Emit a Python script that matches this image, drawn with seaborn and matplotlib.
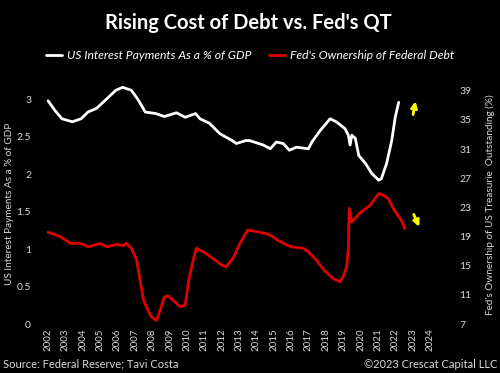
import matplotlib
matplotlib.use("Agg")
import matplotlib.pyplot as plt
import seaborn as sns
import pandas as pd

# US interest payments as % of GDP (left axis)
int_years = [2002.0, 2002.4, 2002.8, 2003.4, 2003.9, 2004.3, 2004.8, 2005.4, 2005.9,
             2006.3, 2006.8, 2007.2, 2007.6, 2008.2, 2008.7, 2009.4, 2009.9, 2010.5,
             2010.75, 2011.3, 2011.9, 2012.6, 2012.85, 2013.4, 2013.6, 2014.4, 2014.8,
             2015.15, 2015.55, 2015.9, 2016.3, 2017.0, 2017.2, 2017.7, 2018.25, 2018.6,
             2019.1, 2019.3, 2019.4, 2019.5, 2019.7, 2019.9, 2020.3, 2020.65, 2021.05,
             2021.2, 2021.5, 2021.8, 2022.0, 2022.2]
int_pct = [2.98, 2.85, 2.74, 2.70, 2.74, 2.83, 2.88, 3.01, 3.12,
           3.16, 3.12, 2.99, 2.83, 2.81, 2.77, 2.82, 2.76, 2.81,
           2.74, 2.68, 2.54, 2.45, 2.41, 2.45, 2.45, 2.39, 2.34,
           2.43, 2.41, 2.32, 2.36, 2.34, 2.43, 2.59, 2.74, 2.70,
           2.61, 2.52, 2.39, 2.52, 2.48, 2.25, 2.14, 2.01, 1.92,
           1.94, 2.14, 2.45, 2.76, 2.96]

# Fed's ownership of US treasuries outstanding, % (right axis)
fed_years = [2002.0, 2002.7, 2003.3, 2003.85, 2004.3, 2005.0, 2005.4, 2005.9, 2006.4,
             2006.5, 2006.8, 2007.1, 2007.3, 2007.5, 2007.75, 2007.95, 2008.25, 2008.45,
             2008.7, 2008.9, 2009.2, 2009.6, 2009.9, 2010.1, 2010.4, 2010.55, 2010.95,
             2011.5, 2012.0, 2012.25, 2012.65, 2013.05, 2013.5, 2014.6, 2014.95, 2015.15,
             2015.55, 2016.0, 2016.7, 2017.0, 2017.45, 2017.9, 2018.4, 2018.8, 2019.0,
             2019.2, 2019.3, 2019.35, 2019.5, 2019.95, 2020.55, 2021.05, 2021.3, 2021.6,
             2021.95, 2022.35, 2022.55]
fed_pct = [19.6, 19.0, 18.05, 18.1, 17.6, 18.05, 17.6, 17.9, 17.8,
           18.1, 17.4, 15.8, 13.0, 10.3, 8.9, 8.0, 7.5, 8.9,
           10.7, 10.9, 10.3, 9.4, 9.6, 13.0, 16.2, 17.4, 16.9,
           16.0, 15.1, 14.85, 16.0, 18.05, 19.9, 19.4, 19.0, 18.6,
           18.1, 17.6, 17.4, 16.9, 15.8, 14.4, 13.3, 12.8, 13.5,
           14.85, 17.4, 22.85, 21.0, 22.2, 23.3, 24.9, 24.7, 24.2,
           22.6, 21.25, 20.1]

year_ticks = list(range(2002, 2025))
left_ticks = [0, 0.5, 1, 1.5, 2, 2.5, 3]
right_ticks = [7, 11, 15, 19, 23, 27, 31, 35, 39]

df_int = pd.DataFrame({"year": int_years, "pct": int_pct})
df_fed = pd.DataFrame({"year": fed_years, "pct": fed_pct})

sns.set_style("dark", {"axes.facecolor": "black", "figure.facecolor": "black"})
plt.rcParams["font.family"] = ["Lato", "DejaVu Sans"]

fig = plt.figure(figsize=(5, 3.73), dpi=100, facecolor="black")
ax = fig.add_axes([0.076, 0.131, 0.804, 0.643])
ax2 = ax.twinx()

sns.lineplot(data=df_int, x="year", y="pct", ax=ax, color="white", linewidth=2,
             label="US Interest Payments As a % of GDP", legend=False)
sns.lineplot(data=df_fed, x="year", y="pct", ax=ax2, color="#e00000", linewidth=2,
             label="Fed's Ownership of Federal Debt", legend=False)

txt = "#d9d9d9"
ax.set_xlim(2001.42, 2024.58)
ax.set_ylim(0, 3.2)
ax2.set_ylim(7, 39.88)
ax.set_xticks(year_ticks)
ax.set_xticklabels([str(y) for y in year_ticks], rotation=90, fontsize=7, color=txt)
ax.set_yticks(left_ticks)
ax.set_yticklabels([f"{t:g}" for t in left_ticks], fontsize=7.5, color=txt)
ax2.set_yticks(right_ticks)
ax2.set_yticklabels([str(t) for t in right_ticks], fontsize=7.5, color=txt)
for a in (ax, ax2):
    a.set_facecolor("none")
    a.grid(False)
    for s in a.spines.values():
        s.set_visible(False)
    a.tick_params(length=0)
ax.tick_params(axis="y", pad=5)
ax2.tick_params(axis="y", pad=14)
ax.tick_params(axis="x", pad=3)
ax.set_xlabel("")
ax.set_ylabel("US Interest Payments As a % of GDP", fontsize=7.2, color=txt, labelpad=2)
ax2.set_ylabel("Fed's Ownership of US Treasurie  Outstanding (%)", fontsize=7.2,
               color=txt, labelpad=10)

# yellow arrows
ax.annotate("", xy=(2023.2, 3.01), xytext=(2023.0, 2.76),
            arrowprops=dict(arrowstyle="-|>", color="yellow", lw=2, mutation_scale=9))
ax2.annotate("", xy=(2023.45, 20.0), xytext=(2023.0, 22.4),
             arrowprops=dict(arrowstyle="-|>", color="yellow", lw=2, mutation_scale=9))

fig.text(0.497, 0.938, "Rising Cost of Debt vs. Fed's QT", ha="center", va="center",
         fontsize=14.5, fontweight="bold", color="white")

h1, l1 = ax.get_legend_handles_labels()
h2, l2 = ax2.get_legend_handles_labels()
leg = fig.legend(h1 + h2, l1 + l2, loc="center", bbox_to_anchor=(0.5, 0.85), ncol=2,
                 frameon=False, prop={"style": "italic", "size": 8.7},
                 handlelength=1.3, columnspacing=1.5, handletextpad=0.4)
for t in leg.get_texts():
    t.set_color("white")

fig.text(0.006, 0.024, "Source: Federal Reserve; Tavi Costa", ha="left", va="center",
         fontsize=8, color=txt)
fig.text(0.994, 0.024, "\u00a92023 Crescat Capital LLC", ha="right", va="center",
         fontsize=8, color=txt)

fig.savefig("out.png", dpi=100, facecolor="black")
